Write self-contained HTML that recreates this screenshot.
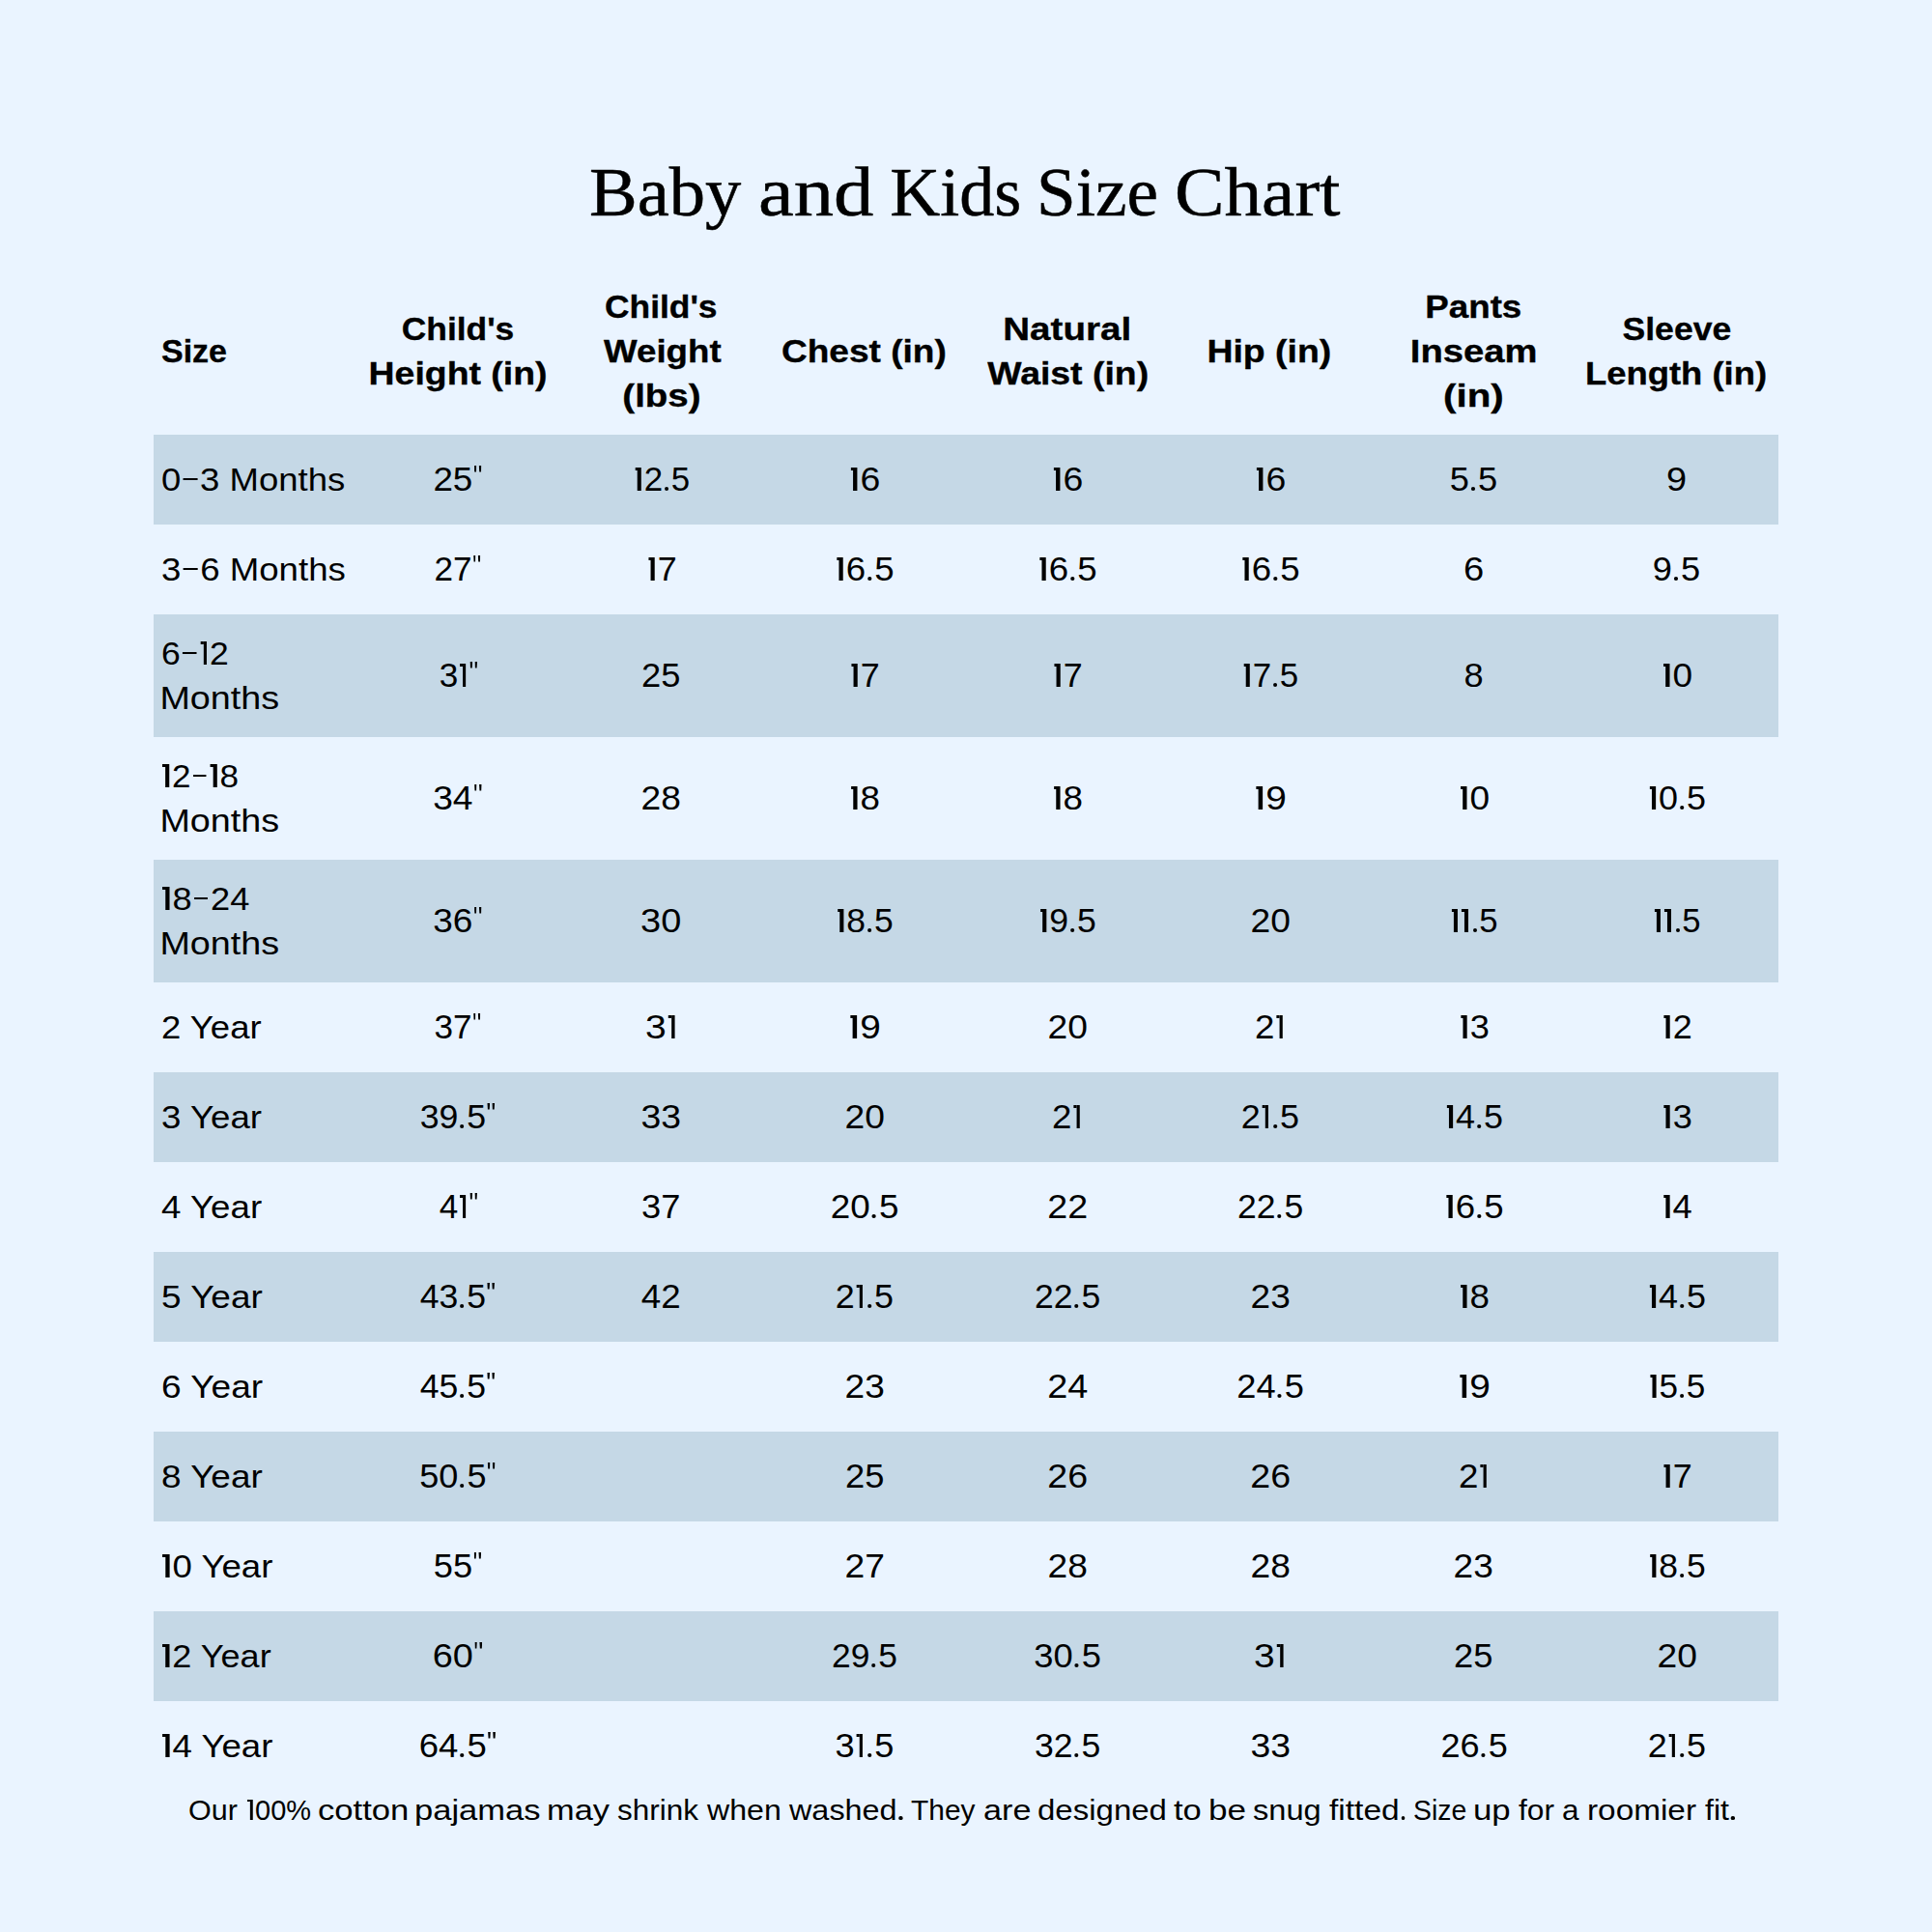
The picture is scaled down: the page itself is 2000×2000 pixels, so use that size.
<!DOCTYPE html>
<html><head><meta charset="utf-8"><title>Baby and Kids Size Chart</title>
<style>
*{margin:0;padding:0;box-sizing:border-box}
html,body{width:2000px;height:2000px;overflow:hidden}
body{background:#EAF4FF;position:relative;font-family:"Liberation Sans",sans-serif;color:#000;font-size:34px;line-height:46px}
.a{position:absolute;white-space:nowrap}
.c{text-align:center;width:210.250px}
.s{display:inline-block}
.sc{transform-origin:50% 50%}
.sl{transform-origin:0 50%}
.band{position:absolute;left:159.0px;width:1682.0px;background:#C5D8E6}
.h{font-weight:bold;-webkit-text-stroke:0.35px #000}
i.one{display:inline-block;position:relative;width:.3147em;height:.694em}
i.one:before{content:"";position:absolute;left:.1294em;width:.103em;top:0;bottom:0;background:#000}
i.hy{display:inline-block;position:relative;width:.541em;height:.4em}
i.hy:before{content:"";position:absolute;left:.0588em;width:.403em;bottom:.3206em;height:.0676em;background:#000}
i.qt{display:inline-block;position:relative;width:.279em;height:.694em}
i.qt:before,i.qt:after{content:"";position:absolute;top:-.0676em;width:.0735em;height:.197em;background:#000;clip-path:polygon(0 0,100% 0,85% 100%,15% 100%)}
i.qt:before{left:.038em}
i.qt:after{left:.1765em}
i.dt{display:inline-block;position:relative;width:.25em;height:.2em}
i.dt:before{content:"";position:absolute;left:.053em;bottom:0;width:.1235em;height:.1235em;border-radius:50%;background:#000}
.v{font-size:34.5px}
i b{position:absolute;left:0;top:0;width:100%;height:100%;overflow:hidden;color:transparent;font-weight:normal;font-style:normal;line-height:1;-webkit-text-stroke:0}
i.one:after{content:"";position:absolute;left:.0441em;width:.094em;top:0;height:.0794em;background:#000}
.tw{font-family:"Liberation Serif",serif;-webkit-text-stroke:0.5px #000;font-size:72px;line-height:90px}
.title{font-family:"Liberation Serif",serif;-webkit-text-stroke:0.5px #000;font-size:72px;line-height:90px;width:2000px;left:0;text-align:center}
.fw{font-size:30px;line-height:40px}
.foot{font-size:30px;line-height:40px;width:2000px;left:0;text-align:center}
</style></head>
<body>
<div class="a tw" style="top:153.71px;left:610.33px"><span class="s sl" style="transform:scaleX(1.0353)">Baby</span> </div>
<div class="a tw" style="top:153.71px;left:785.10px"><span class="s sl" style="transform:scaleX(1.1475)">and</span> </div>
<div class="a tw" style="top:153.71px;left:921.30px"><span class="s sl" style="transform:scaleX(1.0000)">Kids</span> </div>
<div class="a tw" style="top:153.71px;left:1073.24px"><span class="s sl" style="transform:scaleX(1.0153)">Size</span> </div>
<div class="a tw" style="top:153.71px;left:1216.38px"><span class="s sl" style="transform:scaleX(1.0726)">Chart</span> </div>
<div class="a h" style="left:167.00px;top:340.21px"><span class="s sl" style="transform:translateX(0px) scaleX(1.0)">Size</span></div>
<div class="a h c" style="left:369.25px;top:317.21px"><span class="s sc" style="transform:translateX(0px) scaleX(1.04)">Child's</span><br><span class="s sc" style="transform:translateX(0px) scaleX(1.1)">Height (in)</span></div>
<div class="a h c" style="left:579.50px;top:294.21px"><span class="s sc" style="transform:translateX(-0.7px) scaleX(1.04)">Child's</span><br><span class="s sc" style="transform:translateX(1.5px) scaleX(1.078)">Weight</span><br><span class="s sc" style="transform:translateX(0px) scaleX(1.13)">(lbs)</span></div>
<div class="a h c" style="left:789.75px;top:340.21px"><span class="s sc" style="transform:translateX(0px) scaleX(1.09)">Chest (in)</span></div>
<div class="a h c" style="left:1000.00px;top:317.21px"><span class="s sc" style="transform:translateX(-0.9px) scaleX(1.134)">Natural</span><br><span class="s sc" style="transform:translateX(0.8px) scaleX(1.1)">Waist (in)</span></div>
<div class="a h c" style="left:1210.25px;top:340.21px"><span class="s sc" style="transform:translateX(-1.7px) scaleX(1.1)">Hip (in)</span></div>
<div class="a h c" style="left:1420.50px;top:294.21px"><span class="s sc" style="transform:translateX(0px) scaleX(1.08)">Pants</span><br><span class="s sc" style="transform:translateX(0px) scaleX(1.123)">Inseam</span><br><span class="s sc" style="transform:translateX(0px) scaleX(1.186)">(in)</span></div>
<div class="a h c" style="left:1630.75px;top:317.21px"><span class="s sc" style="transform:translateX(0px) scaleX(1.046)">Sleeve</span><br><span class="s sc" style="transform:translateX(-0.8px) scaleX(1.071)">Length (in)</span></div>
<div class="band" style="top:449.5px;height:93px"></div>
<div class="a" style="left:166.5px;top:473.00px"><span class="s sl" style="transform:translateX(0px) scaleX(1.0737)">0<i class="hy"><b>-</b></i>3 Months</span></div>
<div class="a c v" style="left:369.25px;top:473.00px"><span class="s sc" style="transform:scaleX(1.0667)">25<i class="qt"><b>&quot;</b></i></span></div>
<div class="a c v" style="left:579.50px;top:473.00px"><span class="s sc" style="transform:scaleX(1.0109)"><i class="one"><b>1</b></i>2<i class="dt"><b>.</b></i>5</span></div>
<div class="a c v" style="left:789.75px;top:473.00px"><span class="s sc" style="transform:scaleX(1.0852)"><i class="one"><b>1</b></i>6</span></div>
<div class="a c v" style="left:1000.00px;top:473.00px"><span class="s sc" style="transform:scaleX(1.0852)"><i class="one"><b>1</b></i>6</span></div>
<div class="a c v" style="left:1210.25px;top:473.00px"><span class="s sc" style="transform:scaleX(1.0852)"><i class="one"><b>1</b></i>6</span></div>
<div class="a c v" style="left:1420.50px;top:473.00px"><span class="s sc" style="transform:scaleX(1.05)">5<i class="dt"><b>.</b></i>5</span></div>
<div class="a c v" style="left:1630.75px;top:473.00px"><span class="s sc" style="transform:scaleX(1.1)">9</span></div>
<div class="a" style="left:166.5px;top:566.00px"><span class="s sl" style="transform:translateX(0px) scaleX(1.077)">3<i class="hy"><b>-</b></i>6 Months</span></div>
<div class="a c v" style="left:369.25px;top:566.00px"><span class="s sc" style="transform:scaleX(1.0178)">27<i class="qt"><b>&quot;</b></i></span></div>
<div class="a c v" style="left:579.50px;top:566.00px"><span class="s sc" style="transform:scaleX(1.0407)"><i class="one"><b>1</b></i>7</span></div>
<div class="a c v" style="left:789.75px;top:566.00px"><span class="s sc" style="transform:scaleX(1.0613)"><i class="one"><b>1</b></i>6<i class="dt"><b>.</b></i>5</span></div>
<div class="a c v" style="left:1000.00px;top:566.00px"><span class="s sc" style="transform:scaleX(1.0613)"><i class="one"><b>1</b></i>6<i class="dt"><b>.</b></i>5</span></div>
<div class="a c v" style="left:1210.25px;top:566.00px"><span class="s sc" style="transform:scaleX(1.0613)"><i class="one"><b>1</b></i>6<i class="dt"><b>.</b></i>5</span></div>
<div class="a c v" style="left:1420.50px;top:566.00px"><span class="s sc" style="transform:scaleX(1.1062)">6</span></div>
<div class="a c v" style="left:1630.75px;top:566.00px"><span class="s sc" style="transform:scaleX(1.05)">9<i class="dt"><b>.</b></i>5</span></div>
<div class="band" style="top:635.5px;height:127px"></div>
<div class="a" style="left:166.5px;top:653.00px"><span class="s sl" style="transform:translateX(0px) scaleX(1.0437)">6<i class="hy"><b>-</b></i><i class="one"><b>1</b></i>2</span><br><span class="s sl" style="transform:translateX(-1.6px) scaleX(1.1102)">Months</span></div>
<div class="a c v" style="left:369.25px;top:676.00px"><span class="s sc" style="transform:scaleX(1.0189)">3<i class="one"><b>1</b></i><i class="qt"><b>&quot;</b></i></span></div>
<div class="a c v" style="left:579.50px;top:676.00px"><span class="s sc" style="transform:scaleX(1.053)">25</span></div>
<div class="a c v" style="left:789.75px;top:676.00px"><span class="s sc" style="transform:scaleX(1.0407)"><i class="one"><b>1</b></i>7</span></div>
<div class="a c v" style="left:1000.00px;top:676.00px"><span class="s sc" style="transform:scaleX(1.0407)"><i class="one"><b>1</b></i>7</span></div>
<div class="a c v" style="left:1210.25px;top:676.00px"><span class="s sc" style="transform:scaleX(1.0109)"><i class="one"><b>1</b></i>7<i class="dt"><b>.</b></i>5</span></div>
<div class="a c v" style="left:1420.50px;top:676.00px"><span class="s sc" style="transform:scaleX(1.05)">8</span></div>
<div class="a c v" style="left:1630.75px;top:676.00px"><span class="s sc" style="transform:scaleX(1.0731)"><i class="one"><b>1</b></i>0</span></div>
<div class="a" style="left:166.5px;top:780.00px"><span class="s sl" style="transform:translateX(0px) scaleX(1.032)"><i class="one"><b>1</b></i>2<i class="hy"><b>-</b></i><i class="one"><b>1</b></i>8</span><br><span class="s sl" style="transform:translateX(-1.6px) scaleX(1.1102)">Months</span></div>
<div class="a c v" style="left:369.25px;top:803.00px"><span class="s sc" style="transform:scaleX(1.0778)">34<i class="qt"><b>&quot;</b></i></span></div>
<div class="a c v" style="left:579.50px;top:803.00px"><span class="s sc" style="transform:scaleX(1.0771)">28</span></div>
<div class="a c v" style="left:789.75px;top:803.00px"><span class="s sc" style="transform:scaleX(1.0667)"><i class="one"><b>1</b></i>8</span></div>
<div class="a c v" style="left:1000.00px;top:803.00px"><span class="s sc" style="transform:scaleX(1.0667)"><i class="one"><b>1</b></i>8</span></div>
<div class="a c v" style="left:1210.25px;top:803.00px"><span class="s sc" style="transform:scaleX(1.1259)"><i class="one"><b>1</b></i>9</span></div>
<div class="a c v" style="left:1420.50px;top:803.00px"><span class="s sc" style="transform:scaleX(1.0731)"><i class="one"><b>1</b></i>0</span></div>
<div class="a c v" style="left:1630.75px;top:803.00px"><span class="s sc" style="transform:scaleX(1.0418)"><i class="one"><b>1</b></i>0<i class="dt"><b>.</b></i>5</span></div>
<div class="band" style="top:889.5px;height:127px"></div>
<div class="a" style="left:166.5px;top:907.00px"><span class="s sl" style="transform:translateX(0px) scaleX(1.0651)"><i class="one"><b>1</b></i>8<i class="hy"><b>-</b></i>24</span><br><span class="s sl" style="transform:translateX(-1.6px) scaleX(1.1102)">Months</span></div>
<div class="a c v" style="left:369.25px;top:930.00px"><span class="s sc" style="transform:scaleX(1.0711)">36<i class="qt"><b>&quot;</b></i></span></div>
<div class="a c v" style="left:579.50px;top:930.00px"><span class="s sc" style="transform:scaleX(1.1)">30</span></div>
<div class="a c v" style="left:789.75px;top:930.00px"><span class="s sc" style="transform:scaleX(1.0291)"><i class="one"><b>1</b></i>8<i class="dt"><b>.</b></i>5</span></div>
<div class="a c v" style="left:1000.00px;top:930.00px"><span class="s sc" style="transform:scaleX(1.0327)"><i class="one"><b>1</b></i>9<i class="dt"><b>.</b></i>5</span></div>
<div class="a c v" style="left:1210.25px;top:930.00px"><span class="s sc" style="transform:scaleX(1.0791)">20</span></div>
<div class="a c v" style="left:1420.50px;top:930.00px"><span class="s sc" style="transform:scaleX(1.0044)"><i class="one"><b>1</b></i><i class="one"><b>1</b></i><i class="dt"><b>.</b></i>5</span></div>
<div class="a c v" style="left:1630.75px;top:930.00px"><span class="s sc" style="transform:scaleX(1.0044)"><i class="one"><b>1</b></i><i class="one"><b>1</b></i><i class="dt"><b>.</b></i>5</span></div>
<div class="a" style="left:166.5px;top:1040.00px"><span class="s sl" style="transform:translateX(0px) scaleX(1.0745)">2 Year</span></div>
<div class="a c v" style="left:369.25px;top:1040.00px"><span class="s sc" style="transform:scaleX(1.0178)">37<i class="qt"><b>&quot;</b></i></span></div>
<div class="a c v" style="left:579.50px;top:1040.00px"><span class="s sc" style="transform:scaleX(1.1308)">3<i class="one"><b>1</b></i></span></div>
<div class="a c v" style="left:789.75px;top:1040.00px"><span class="s sc" style="transform:scaleX(1.1259)"><i class="one"><b>1</b></i>9</span></div>
<div class="a c v" style="left:1000.00px;top:1040.00px"><span class="s sc" style="transform:scaleX(1.0791)">20</span></div>
<div class="a c v" style="left:1210.25px;top:1040.00px"><span class="s sc" style="transform:scaleX(1.064)">2<i class="one"><b>1</b></i></span></div>
<div class="a c v" style="left:1420.50px;top:1040.00px"><span class="s sc" style="transform:scaleX(1.0481)"><i class="one"><b>1</b></i>3</span></div>
<div class="a c v" style="left:1630.75px;top:1040.00px"><span class="s sc" style="transform:scaleX(1.0444)"><i class="one"><b>1</b></i>2</span></div>
<div class="band" style="top:1109.5px;height:93px"></div>
<div class="a" style="left:166.5px;top:1133.00px"><span class="s sl" style="transform:translateX(0px) scaleX(1.0787)">3 Year</span></div>
<div class="a c v" style="left:369.25px;top:1133.00px"><span class="s sc" style="transform:scaleX(1.0342)">39<i class="dt"><b>.</b></i>5<i class="qt"><b>&quot;</b></i></span></div>
<div class="a c v" style="left:579.50px;top:1133.00px"><span class="s sc" style="transform:scaleX(1.0829)">33</span></div>
<div class="a c v" style="left:789.75px;top:1133.00px"><span class="s sc" style="transform:scaleX(1.0791)">20</span></div>
<div class="a c v" style="left:1000.00px;top:1133.00px"><span class="s sc" style="transform:scaleX(1.064)">2<i class="one"><b>1</b></i></span></div>
<div class="a c v" style="left:1210.25px;top:1133.00px"><span class="s sc" style="transform:scaleX(1.0418)">2<i class="one"><b>1</b></i><i class="dt"><b>.</b></i>5</span></div>
<div class="a c v" style="left:1420.50px;top:1133.00px"><span class="s sc" style="transform:scaleX(1.0418)"><i class="one"><b>1</b></i>4<i class="dt"><b>.</b></i>5</span></div>
<div class="a c v" style="left:1630.75px;top:1133.00px"><span class="s sc" style="transform:scaleX(1.0481)"><i class="one"><b>1</b></i>3</span></div>
<div class="a" style="left:166.5px;top:1226.00px"><span class="s sl" style="transform:translateX(0px) scaleX(1.08)">4 Year</span></div>
<div class="a c v" style="left:369.25px;top:1226.00px"><span class="s sc" style="transform:scaleX(1.0158)">4<i class="one"><b>1</b></i><i class="qt"><b>&quot;</b></i></span></div>
<div class="a c v" style="left:579.50px;top:1226.00px"><span class="s sc" style="transform:scaleX(1.0514)">37</span></div>
<div class="a c v" style="left:789.75px;top:1226.00px"><span class="s sc" style="transform:scaleX(1.0677)">20<i class="dt"><b>.</b></i>5</span></div>
<div class="a c v" style="left:1000.00px;top:1226.00px"><span class="s sc" style="transform:scaleX(1.0912)">22</span></div>
<div class="a c v" style="left:1210.25px;top:1226.00px"><span class="s sc" style="transform:scaleX(1.0302)">22<i class="dt"><b>.</b></i>5</span></div>
<div class="a c v" style="left:1420.50px;top:1226.00px"><span class="s sc" style="transform:scaleX(1.0613)"><i class="one"><b>1</b></i>6<i class="dt"><b>.</b></i>5</span></div>
<div class="a c v" style="left:1630.75px;top:1226.00px"><span class="s sc" style="transform:scaleX(1.0536)"><i class="one"><b>1</b></i>4</span></div>
<div class="band" style="top:1295.5px;height:93px"></div>
<div class="a" style="left:166.5px;top:1319.00px"><span class="s sl" style="transform:translateX(0px) scaleX(1.0862)">5 Year</span></div>
<div class="a c v" style="left:369.25px;top:1319.00px"><span class="s sc" style="transform:scaleX(1.0311)">43<i class="dt"><b>.</b></i>5<i class="qt"><b>&quot;</b></i></span></div>
<div class="a c v" style="left:579.50px;top:1319.00px"><span class="s sc" style="transform:scaleX(1.0667)">42</span></div>
<div class="a c v" style="left:789.75px;top:1319.00px"><span class="s sc" style="transform:scaleX(1.0418)">2<i class="one"><b>1</b></i><i class="dt"><b>.</b></i>5</span></div>
<div class="a c v" style="left:1000.00px;top:1319.00px"><span class="s sc" style="transform:scaleX(1.0302)">22<i class="dt"><b>.</b></i>5</span></div>
<div class="a c v" style="left:1210.25px;top:1319.00px"><span class="s sc" style="transform:scaleX(1.0733)">23</span></div>
<div class="a c v" style="left:1420.50px;top:1319.00px"><span class="s sc" style="transform:scaleX(1.0667)"><i class="one"><b>1</b></i>8</span></div>
<div class="a c v" style="left:1630.75px;top:1319.00px"><span class="s sc" style="transform:scaleX(1.0418)"><i class="one"><b>1</b></i>4<i class="dt"><b>.</b></i>5</span></div>
<div class="a" style="left:166.5px;top:1412.00px"><span class="s sl" style="transform:translateX(0px) scaleX(1.0894)">6 Year</span></div>
<div class="a c v" style="left:369.25px;top:1412.00px"><span class="s sc" style="transform:scaleX(1.0311)">45<i class="dt"><b>.</b></i>5<i class="qt"><b>&quot;</b></i></span></div>
<div class="a c v" style="left:789.75px;top:1412.00px"><span class="s sc" style="transform:scaleX(1.0733)">23</span></div>
<div class="a c v" style="left:1000.00px;top:1412.00px"><span class="s sc" style="transform:scaleX(1.0971)">24</span></div>
<div class="a c v" style="left:1210.25px;top:1412.00px"><span class="s sc" style="transform:scaleX(1.0508)">24<i class="dt"><b>.</b></i>5</span></div>
<div class="a c v" style="left:1420.50px;top:1412.00px"><span class="s sc" style="transform:scaleX(1.1259)"><i class="one"><b>1</b></i>9</span></div>
<div class="a c v" style="left:1630.75px;top:1412.00px"><span class="s sc" style="transform:scaleX(1.02)"><i class="one"><b>1</b></i>5<i class="dt"><b>.</b></i>5</span></div>
<div class="band" style="top:1481.5px;height:93px"></div>
<div class="a" style="left:166.5px;top:1505.00px"><span class="s sl" style="transform:translateX(0px) scaleX(1.0862)">8 Year</span></div>
<div class="a c v" style="left:369.25px;top:1505.00px"><span class="s sc" style="transform:scaleX(1.0452)">50<i class="dt"><b>.</b></i>5<i class="qt"><b>&quot;</b></i></span></div>
<div class="a c v" style="left:789.75px;top:1505.00px"><span class="s sc" style="transform:scaleX(1.053)">25</span></div>
<div class="a c v" style="left:1000.00px;top:1505.00px"><span class="s sc" style="transform:scaleX(1.0886)">26</span></div>
<div class="a c v" style="left:1210.25px;top:1505.00px"><span class="s sc" style="transform:scaleX(1.0886)">26</span></div>
<div class="a c v" style="left:1420.50px;top:1505.00px"><span class="s sc" style="transform:scaleX(1.064)">2<i class="one"><b>1</b></i></span></div>
<div class="a c v" style="left:1630.75px;top:1505.00px"><span class="s sc" style="transform:scaleX(1.0407)"><i class="one"><b>1</b></i>7</span></div>
<div class="a" style="left:166.5px;top:1598.00px"><span class="s sl" style="transform:translateX(0px) scaleX(1.0771)"><i class="one"><b>1</b></i>0 Year</span></div>
<div class="a c v" style="left:369.25px;top:1598.00px"><span class="s sc" style="transform:scaleX(1.0511)">55<i class="qt"><b>&quot;</b></i></span></div>
<div class="a c v" style="left:789.75px;top:1598.00px"><span class="s sc" style="transform:scaleX(1.0794)">27</span></div>
<div class="a c v" style="left:1000.00px;top:1598.00px"><span class="s sc" style="transform:scaleX(1.0771)">28</span></div>
<div class="a c v" style="left:1210.25px;top:1598.00px"><span class="s sc" style="transform:scaleX(1.0771)">28</span></div>
<div class="a c v" style="left:1420.50px;top:1598.00px"><span class="s sc" style="transform:scaleX(1.0733)">23</span></div>
<div class="a c v" style="left:1630.75px;top:1598.00px"><span class="s sc" style="transform:scaleX(1.0291)"><i class="one"><b>1</b></i>8<i class="dt"><b>.</b></i>5</span></div>
<div class="band" style="top:1667.5px;height:93px"></div>
<div class="a" style="left:166.5px;top:1691.00px"><span class="s sl" style="transform:translateX(0px) scaleX(1.061)"><i class="one"><b>1</b></i>2 Year</span></div>
<div class="a c v" style="left:369.25px;top:1691.00px"><span class="s sc" style="transform:scaleX(1.0978)">60<i class="qt"><b>&quot;</b></i></span></div>
<div class="a c v" style="left:789.75px;top:1691.00px"><span class="s sc" style="transform:scaleX(1.0266)">29<i class="dt"><b>.</b></i>5</span></div>
<div class="a c v" style="left:1000.00px;top:1691.00px"><span class="s sc" style="transform:scaleX(1.0524)">30<i class="dt"><b>.</b></i>5</span></div>
<div class="a c v" style="left:1210.25px;top:1691.00px"><span class="s sc" style="transform:scaleX(1.1308)">3<i class="one"><b>1</b></i></span></div>
<div class="a c v" style="left:1420.50px;top:1691.00px"><span class="s sc" style="transform:scaleX(1.053)">25</span></div>
<div class="a c v" style="left:1630.75px;top:1691.00px"><span class="s sc" style="transform:scaleX(1.0791)">20</span></div>
<div class="a" style="left:166.5px;top:1784.00px"><span class="s sl" style="transform:translateX(0px) scaleX(1.0771)"><i class="one"><b>1</b></i>4 Year</span></div>
<div class="a c v" style="left:369.25px;top:1784.00px"><span class="s sc" style="transform:scaleX(1.0575)">64<i class="dt"><b>.</b></i>5<i class="qt"><b>&quot;</b></i></span></div>
<div class="a c v" style="left:789.75px;top:1784.00px"><span class="s sc" style="transform:scaleX(1.05)">3<i class="one"><b>1</b></i><i class="dt"><b>.</b></i>5</span></div>
<div class="a c v" style="left:1000.00px;top:1784.00px"><span class="s sc" style="transform:scaleX(1.0317)">32<i class="dt"><b>.</b></i>5</span></div>
<div class="a c v" style="left:1210.25px;top:1784.00px"><span class="s sc" style="transform:scaleX(1.0829)">33</span></div>
<div class="a c v" style="left:1420.50px;top:1784.00px"><span class="s sc" style="transform:scaleX(1.046)">26<i class="dt"><b>.</b></i>5</span></div>
<div class="a c v" style="left:1630.75px;top:1784.00px"><span class="s sc" style="transform:scaleX(1.0418)">2<i class="one"><b>1</b></i><i class="dt"><b>.</b></i>5</span></div>
<div class="a fw" style="top:1853.60px;left:195.38px"><span class="s sl" style="transform:scaleX(1.0163)">Our</span> </div>
<div class="a fw" style="top:1853.60px;left:254.83px"><span class="s sl" style="transform:scaleX(0.9657)"><i class="one"><b>1</b></i>00%</span> </div>
<div class="a fw" style="top:1853.60px;left:328.95px"><span class="s sl" style="transform:scaleX(1.1544)">cotton</span> </div>
<div class="a fw" style="top:1853.60px;left:429.20px"><span class="s sl" style="transform:scaleX(1.1518)">pajamas</span> </div>
<div class="a fw" style="top:1853.60px;left:565.81px"><span class="s sl" style="transform:scaleX(1.1455)">may</span> </div>
<div class="a fw" style="top:1853.60px;left:639.15px"><span class="s sl" style="transform:scaleX(1.0481)">shrink</span> </div>
<div class="a fw" style="top:1853.60px;left:732.30px"><span class="s sl" style="transform:scaleX(1.07)">when</span> </div>
<div class="a fw" style="top:1853.60px;left:817.20px"><span class="s sl" style="transform:scaleX(1.0789)">washed<i class="dt"><b>.</b></i></span> </div>
<div class="a fw" style="top:1853.60px;left:943.10px"><span class="s sl" style="transform:scaleX(0.997)">They</span> </div>
<div class="a fw" style="top:1853.60px;left:1017.96px"><span class="s sl" style="transform:scaleX(1.139)">are</span> </div>
<div class="a fw" style="top:1853.60px;left:1073.90px"><span class="s sl" style="transform:scaleX(1.1)">designed</span> </div>
<div class="a fw" style="top:1853.60px;left:1215.40px"><span class="s sl" style="transform:scaleX(1.15)">to</span> </div>
<div class="a fw" style="top:1853.60px;left:1251.26px"><span class="s sl" style="transform:scaleX(1.17)">be</span> </div>
<div class="a fw" style="top:1853.60px;left:1296.91px"><span class="s sl" style="transform:scaleX(1.0871)">snug</span> </div>
<div class="a fw" style="top:1853.60px;left:1376.30px"><span class="s sl" style="transform:scaleX(1.1171)">fitted<i class="dt"><b>.</b></i></span> </div>
<div class="a fw" style="top:1853.60px;left:1462.71px"><span class="s sl" style="transform:scaleX(0.9455)">Size</span> </div>
<div class="a fw" style="top:1853.60px;left:1524.88px"><span class="s sl" style="transform:scaleX(1.16)">up</span> </div>
<div class="a fw" style="top:1853.60px;left:1571.60px"><span class="s sl" style="transform:scaleX(1.0543)">for</span> </div>
<div class="a fw" style="top:1853.60px;left:1616.95px"><span class="s sl" style="transform:scaleX(1.05)">a</span> </div>
<div class="a fw" style="top:1853.60px;left:1643.18px"><span class="s sl" style="transform:scaleX(1.1111)">roomier</span> </div>
<div class="a fw" style="top:1853.60px;left:1764.50px"><span class="s sl" style="transform:scaleX(1.069)">fit<i class="dt"><b>.</b></i></span> </div>
</body></html>
